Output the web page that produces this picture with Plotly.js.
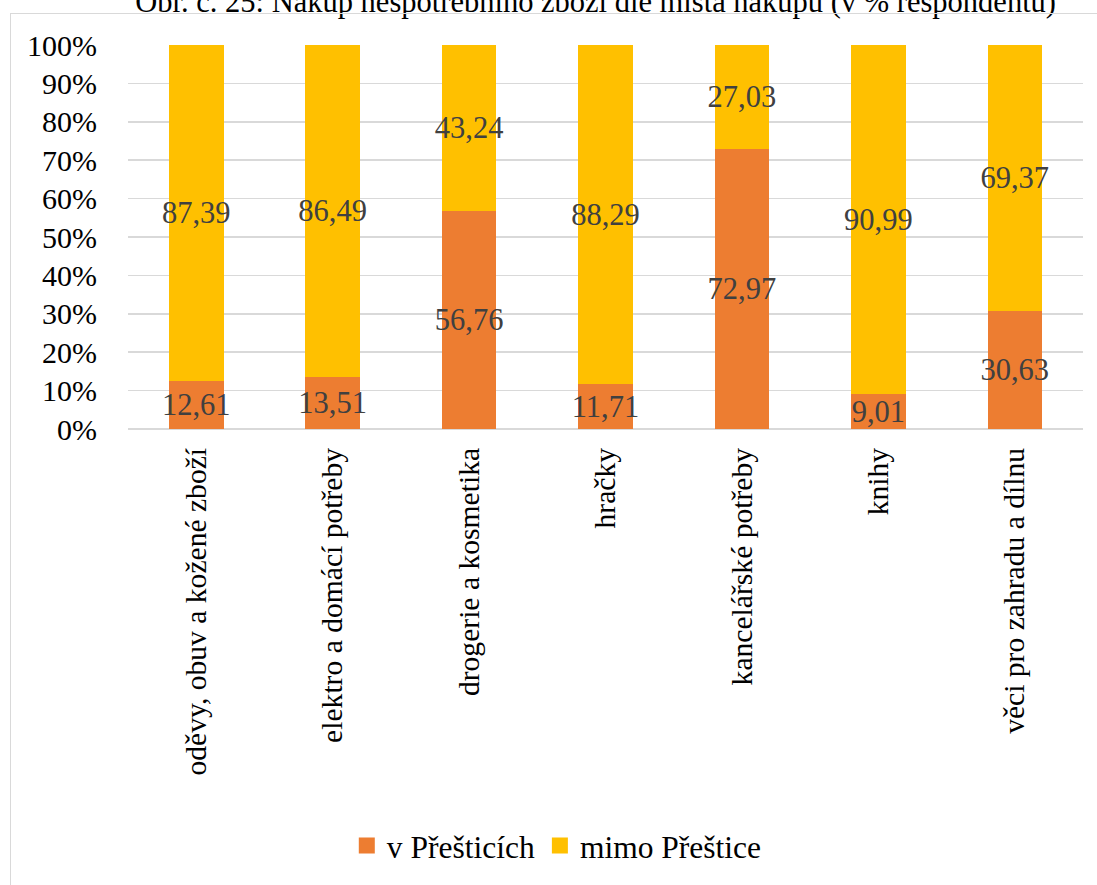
<!DOCTYPE html>
<html>
<head>
<meta charset="utf-8">
<script src="https://cdn.plot.ly/plotly-3.0.1.min.js"></script>
<style>
html,body{margin:0;padding:0;background:#fff;}
#wrap{position:relative;width:1097px;height:885px;overflow:hidden;}
#chart{width:1097px;height:885px;}
#frame{position:absolute;left:10px;top:13px;width:1100px;height:900px;border:1.5px solid #d9d9d9;pointer-events:none;}
</style>
</head>
<body>
<div id="wrap"><div id="chart"></div><div id="frame"></div></div>
<script>
const categories = ["oděvy, obuv a kožené zboží","elektro a domácí potřeby","drogerie a kosmetika","hračky","kancelářské potřeby","knihy","věci pro zahradu a dílnu"];
const vPresticich = [12.61, 13.51, 56.76, 11.71, 72.97, 9.01, 30.63];
const mimoPrestice = [87.39, 86.49, 43.24, 88.29, 27.03, 90.99, 69.37];
const seriesNames = ["v Přešticích", "mimo Přeštice"];
const seriesColors = ['#ED7D31', '#FFC000'];
const titleText = "Obr. č. 25: Nákup nespotřebního zboží dle místa nákupu (v % respondentů)";
const yTicks = [0,10,20,30,40,50,60,70,80,90,100];
const yTickText = yTicks.map(v => v + '%');

const FONT = "Liberation Serif";
const common = {
  type: 'bar',
  x: categories,
  texttemplate: '%{y:.2f}',
  textposition: 'inside',
  insidetextanchor: 'middle',
  textangle: 0,
  constraintext: 'none',
  textfont: {family: FONT, size: 30.5, color: '#404040'},
  hoverinfo: 'none',
  showlegend: false
};
const data = [
  Object.assign({}, common, {name: seriesNames[0], y: vPresticich, marker: {color: seriesColors[0]}}),
  Object.assign({}, common, {name: seriesNames[1], y: mimoPrestice, marker: {color: seriesColors[1]}})
];
// legend entries with larger square keys (no data points)
seriesNames.forEach((n, i) => {
  data.push({type: 'scatter', mode: 'markers', x: [null], y: [null], name: n,
    marker: {symbol: 'square', size: 17, color: seriesColors[i]}, hoverinfo: 'none', showlegend: true});
});
const layout = {
  width: 1097, height: 885,
  paper_bgcolor: '#fff', plot_bgcolor: '#fff',
  barmode: 'stack',
  bargap: 0.6,
  separators: ', ',
  margin: {l: 128, r: 14, t: 45, b: 453},
  font: {family: FONT, size: 29, color: '#000'},
  title: {text: titleText, x: 0.543, xanchor: 'center', y: 0.998, yanchor: 'middle', font: {family: FONT, size: 30.5, color: '#000'}},
  xaxis: {
    type: 'category', categoryorder: 'array', categoryarray: categories,
    tickangle: -90, tickfont: {family: FONT, size: 29.6, color: '#000'},
    showline: false, ticks: '', ticklen: 0, automargin: false, ticklabelstandoff: 12, showgrid: false
  },
  yaxis: {
    range: [0, 100], tickmode: 'array', tickvals: yTicks, ticktext: yTickText,
    tickfont: {family: FONT, size: 30, color: '#000'},
    gridcolor: '#d9d9d9', gridwidth: 1.5, zeroline: true, zerolinecolor: '#d9d9d9', zerolinewidth: 1.5,
    showline: false, ticks: '', automargin: false, ticklabelstandoff: 30
  },
  showlegend: true,
  legend: {orientation: 'h', x: 0.449, xanchor: 'center', y: -1.085, yanchor: 'middle',
    font: {family: FONT, size: 31.5, color: '#000'}, traceorder: 'normal', itemwidth: 30}
};
Plotly.newPlot('chart', data, layout, {staticPlot: true, displayModeBar: false});
</script>
</body>
</html>
